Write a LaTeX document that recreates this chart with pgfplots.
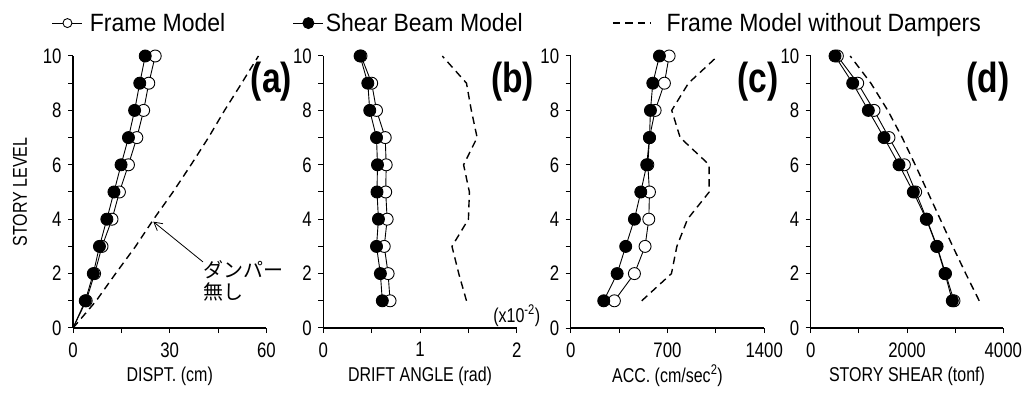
\documentclass[border=0pt]{standalone}
\usepackage{fontspec}
\setmainfont{Liberation Sans}[FakeStretch=0.8]
\newfontfamily\legendfont{Liberation Sans}[FakeStretch=0.92]
\newfontfamily\jpfont{Noto Sans CJK JP}
\usepackage{pgfplots}
\pgfplotsset{compat=1.18}
\usetikzlibrary{arrows.meta}

\tikzset{tag/.style={font=\bfseries\fontsize{42bp}{42bp}\selectfont, anchor=center}}

\pgfplotsset{
  panel/.style={
    scale only axis, width=193.5bp, height=272bp,
    anchor=south west,
    ymin=0, ymax=10, ytick={0,2,...,10}, minor ytick={1,3,...,9},
    axis x line*=bottom, axis y line*=left,
    tick align=outside,
    major tick length=5bp, minor tick length=5bp,
    every tick/.style={black, line width=1bp},
    axis line style={line width=1.4bp},
    clip=false,
    /pgf/number format/assume math mode=true,
    /pgf/number format/1000 sep={},
    tick label style={font=\fontsize{21bp}{21bp}\selectfont},
    xticklabel style={yshift=-6bp},
    yticklabel style={xshift=-3bp},
    label style={font=\fontsize{20bp}{20bp}\selectfont},
    xlabel style={at={(axis description cs:0.5,-0.176)}, anchor=center},
    legend style={draw=none, fill=none, inner sep=0pt, outer sep=0pt,
      anchor=west, font=\legendfont\fontsize{25bp}{25bp}\selectfont,
      nodes={inner sep=0pt}},
  },
  open/.style={black, line width=0.9bp, mark=*, mark size=6bp,
    mark options={fill=white, line width=0.9bp, solid}},
  filled/.style={black, line width=0.9bp, mark=*, mark size=6bp,
    mark options={fill=black, solid}},
  nodamp/.style={black, line width=1.4bp, dash pattern=on 7.5bp off 5bp},
  keyline/.style={legend image code/.code={
    \draw[mark repeat=2, mark phase=2, ##1] plot coordinates {(0bp,0bp) (15bp,0bp) (30bp,0bp)};}},
}

\begin{document}
\begin{tikzpicture}
\useasboundingbox (0,0) rectangle (1026bp,398bp);

% (a) displacement
\begin{axis}[panel, at={(73bp,70bp)},
  xmin=0, xmax=60, xtick={0,30,60}, minor xtick={15,45},
  xlabel={DISPT. (cm)}, ylabel={STORY LEVEL},
  ylabel style={at={(axis description cs:-0.274,0.5)}, anchor=center},
  legend style={at={(axis description cs:-0.1085,1.121)}, column sep=7bp}]
\addlegendimage{open, mark size=4.5bp, keyline}
\addlegendentry{Frame Model}
\addplot[open, mark indices={2,...,11}, forget plot] coordinates {
 (0,0) (4.1,1) (6.7,2) (9.0,3) (12.1,4) (14.4,5) (17.2,6) (19.8,7) (21.9,8) (23.5,9) (25.5,10)};
\addplot[filled, mark indices={2,...,11}, forget plot] coordinates {
 (0,0) (3.8,1) (6.3,2) (8.2,3) (10.5,4) (12.7,5) (14.9,6) (17.2,7) (19.1,8) (20.7,9) (22.4,10)};
\addplot[nodamp, forget plot] coordinates {
 (0,0) (7.2,1) (13.2,2) (19.4,3) (25.0,4) (31.0,5) (36.6,6) (42.0,7) (47.0,8) (52.3,9) (57.5,10)};
\draw[-{Straight Barb[length=8bp,width=9bp]}, line width=0.8bp]
  (axis cs:40.3,2.43) -- (axis cs:24.9,3.91);
\node[font=\jpfont\fontsize{20bp}{22bp}\selectfont, anchor=west, align=left, inner sep=0pt]
  at (axis cs:40.3,1.72) {ダンパー\\無し};
\node[tag] at (axis description cs:1.026,0.905) {(a)};
\end{axis}

% (b) drift angle
\begin{axis}[panel, at={(323.3bp,70bp)},
  xmin=0, xmax=2, xtick={0,1,2}, minor xtick={0.5,1.5},
  xlabel={DRIFT ANGLE (rad)},
  legend style={at={(axis description cs:-0.157,1.121)}, column sep=2bp}]
\addlegendimage{filled, mark size=5.5bp, keyline}
\addlegendentry{Shear Beam Model}
\addplot[open, forget plot] coordinates {
 (0.69,1) (0.67,2) (0.63,3) (0.66,4) (0.645,5) (0.65,6) (0.64,7) (0.55,8) (0.50,9) (0.39,10)};
\addplot[filled, forget plot] coordinates {
 (0.61,1) (0.59,2) (0.55,3) (0.57,4) (0.555,5) (0.56,6) (0.55,7) (0.48,8) (0.46,9) (0.38,10)};
\addplot[nodamp, forget plot] coordinates {
 (1.48,1) (1.40,2) (1.33,3) (1.50,4) (1.51,5) (1.45,6) (1.59,7) (1.53,8) (1.48,9) (1.23,10)};
\node[font=\fontsize{20bp}{20bp}\selectfont] at (axis description cs:1.0,0.045) {(x10\textsuperscript{-2})};
\node[tag] at (axis description cs:0.978,0.905) {(b)};
\end{axis}

% (c) acceleration
\begin{axis}[panel, at={(570.7bp,70bp)},
  xmin=0, xmax=1400, xtick={0,700,1400}, minor xtick={350,1050},
  xlabel={ACC. (cm/sec\textsuperscript{2})},
  legend style={at={(axis description cs:0.214,1.121)}, column sep=15bp}]
\addlegendimage{nodamp, legend image code/.code={
  \draw[##1] (0bp,0bp) -- (38bp,0bp);}}
\addlegendentry{Frame Model without Dampers}
\addplot[open, forget plot] coordinates {
 (316,1) (461,2) (538,3) (565,4) (570,5) (558,6) (570,7) (611,8) (678,9) (712,10)};
\addplot[filled, forget plot] coordinates {
 (239,1) (336,2) (398,3) (461,4) (507,5) (550,6) (570,7) (577,8) (594,9) (642,10)};
\addplot[nodamp, forget plot] coordinates {
 (514,1) (729,2) (768,3) (845,4) (1002,5) (1002,6) (792,7) (731,8) (852,9) (1064,10)};
\node[tag] at (axis description cs:0.969,0.905) {(c)};
\end{axis}

% (d) story shear
\begin{axis}[panel, at={(810.7bp,70bp)}, width=192.6bp,
  xmin=0, xmax=4000, xtick={0,2000,4000}, minor xtick={1000,3000},
  xlabel={STORY SHEAR (tonf)}]
\addplot[open] coordinates {
 (2976,1) (2800,2) (2625,3) (2410,4) (2180,5) (1945,6) (1626,7) (1315,8) (976,9) (554,10)};
\addplot[filled] coordinates {
 (2941,1) (2789,2) (2616,3) (2401,4) (2131,5) (1834,6) (1522,7) (1197,8) (872,9) (505,10)};
\addplot[nodamp] coordinates {
 (3500,1) (3220,2) (2950,3) (2690,4) (2430,5) (2170,6) (1900,7) (1600,8) (1250,9) (820,10)};
\node[tag] at (axis description cs:0.92,0.905) {(d)};
\end{axis}
\end{tikzpicture}
\end{document}
